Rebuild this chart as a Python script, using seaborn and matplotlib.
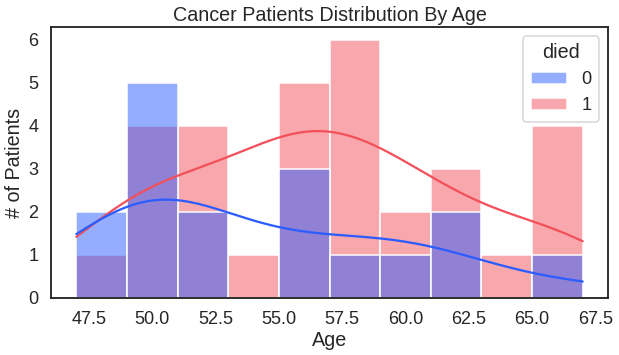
import pandas as pd
import matplotlib.pyplot as plt
import seaborn as sns

# Ages of patients, split by outcome (died = 0 / 1)
ages_survived = [47.0, 48.9, 50.1, 50.1, 50.1, 50.1, 50.1, 51.0, 51.0,
                 55.7, 55.8, 55.8, 58.9, 60.7, 61.0, 61.0, 67.0]
ages_died = [47.0, 49.3, 49.3, 49.3, 49.4, 51.0, 51.0, 52.2, 52.4, 54.5, 55.0,
             55.0, 55.4, 55.4, 55.5, 57.0, 57.0, 57.4, 57.5, 58.0, 58.3, 60.1,
             60.3, 61.0, 61.0, 61.4, 63.2, 65.8, 65.9, 65.9, 67.0]

df = pd.DataFrame({
    "age": ages_survived + ages_died,
    "died": [0] * len(ages_survived) + [1] * len(ages_died),
})

sns.set_theme(style="white", context="talk", font_scale=1.1)
plt.rcParams["font.family"] = ["Liberation Sans", "DejaVu Sans"]

fig, ax = plt.subplots(figsize=(619 / 72, 355 / 72), dpi=72)
sns.histplot(data=df, x="age", hue="died", bins=10, binrange=(47, 67), kde=True,
             palette={0: "#2b5cff", 1: "#f2505a"}, ax=ax)

ax.set_title("Cancer Patients Distribution By Age")
ax.set_xlabel("Age")
ax.set_ylabel("# of Patients")

fig.subplots_adjust(left=51 / 619, right=608 / 619, top=1 - 27 / 355, bottom=1 - 298 / 355)
fig.savefig("out.png", dpi=72)
